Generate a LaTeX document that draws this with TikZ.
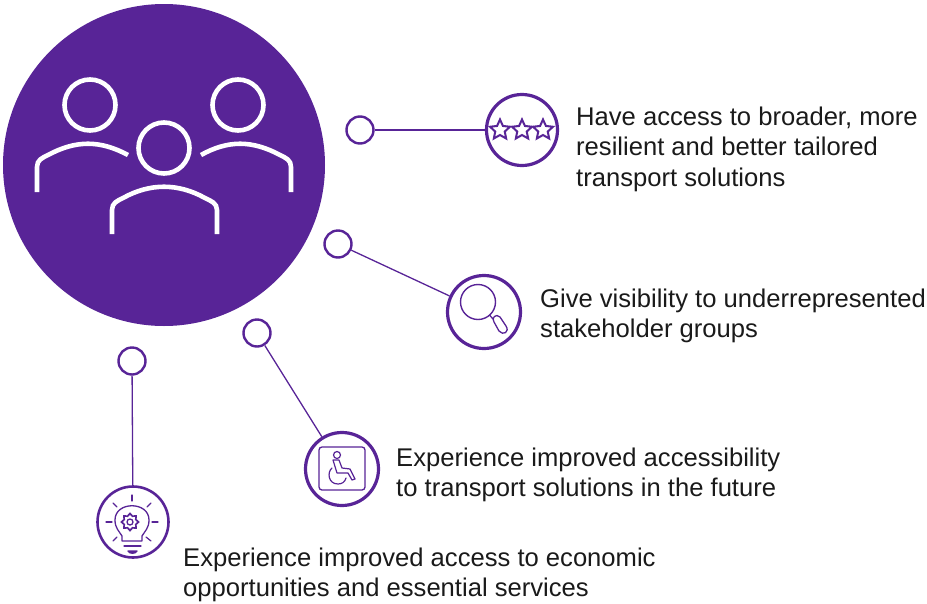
\documentclass[tikz,border=0pt]{standalone}
\usepackage{fontspec}
\setmainfont{Liberation Sans}
\usetikzlibrary{shapes.geometric}
\definecolor{pur}{HTML}{582497}
\definecolor{txt}{HTML}{1A1A1A}
\tikzset{
  dot/.style={circle,draw=pur,line width=2.4pt,fill=white,minimum size=27pt,inner sep=0pt},
  ring/.style={circle,draw=pur,line width=3.2pt,fill=white,minimum size=71pt,inner sep=0pt},
  link/.style={draw=pur,line width=1.3pt},
  ico/.style={draw=pur,line width=1.3pt,line cap=round,line join=round},
  ppl/.style={draw=white,line width=4.6pt},
  lab/.style={anchor=west,align=left,text=txt,font=\fontsize{25.6pt}{30.5pt}\selectfont,inner sep=0pt},
  staricon/.style={star,star points=5,star point ratio=2.1,draw=pur,line width=2pt,minimum size=21pt,inner sep=0pt,fill=white}
}
\begin{document}
\begin{tikzpicture}[x=1pt,y=-1pt]
\useasboundingbox (0,0) rectangle (927,603);
% main disc
\node[circle,fill=pur,minimum size=322pt,inner sep=0pt] (main) at (164,165) {};
% people
\node[circle,draw=white,line width=4.6pt,minimum size=51pt,inner sep=0pt] (h1) at (90,105) {};
\node[circle,draw=white,line width=4.6pt,minimum size=51pt,inner sep=0pt] (h2) at (238,105) {};
\node[circle,draw=white,line width=4.6pt,minimum size=51pt,inner sep=0pt] (h3) at (164,148) {};
\draw[ppl] (37,192) -- (37,167) .. controls (37,160) and (42,158) .. (48,155) .. controls (76,140) and (100,140) .. (128,155);
\draw[ppl] (291,192) -- (291,167) .. controls (291,160) and (286,158) .. (280,155) .. controls (252,140) and (228,140) .. (201,155);
\draw[ppl] (112,234) -- (112,210) .. controls (112,203) and (117,201) .. (123,198) .. controls (150,183) and (178,183) .. (205,198) .. controls (211,201) and (217,203) .. (217,210) -- (217,234);
% end dots and icon rings
\node[dot] (d1) at (360,130) {};
\node[dot] (d2) at (338,244) {};
\node[dot] (d3) at (257,333) {};
\node[dot] (d4) at (132,361) {};
\node[ring] (r1) at (522,130) {};
\node[ring,minimum size=73pt] (r2) at (484,312) {};
\node[ring,minimum size=73pt] (r3) at (342,469) {};
\node[ring,line width=2.6pt] (r4) at (133,522) {};
\draw[link] (d1) -- (r1);
\draw[link] (d2) -- (r2);
\draw[link] (d3) -- (r3);
\draw[link] (d4) -- (r4);
% stars
\node[staricon] (s1) at (500,130) {};
\node[staricon] (s2) at (522,130) {};
\node[staricon] (s3) at (543,130) {};
% magnifier
\node[circle,draw=pur,line width=1.4pt,minimum size=35pt,inner sep=0pt] (lens) at (478,302) {};
\draw[ico] (lens) -- (493,319);
\draw[ico] (494,322) .. controls (491,318) and (496,313) .. (500,317) -- (506,326) .. controls (510,332) and (503,336) .. (499,331) -- cycle;
% wheelchair
\draw[ico,rounded corners=3pt] (319,447) rectangle (365,490);
\node[circle,draw=pur,line width=1.2pt,minimum size=7pt,inner sep=0pt] (wh) at (337,455) {};
\draw[ico,line width=1.2pt] (333,460) -- (339,460) -- (342,468) -- (350,469) -- (355,479) -- (352,480) -- (348,473) -- (337,473) -- cycle;
\draw[ico,line width=1.2pt] (332,468) .. controls (327,472) and (328,484) .. (338,484) .. controls (342,484) and (345,482) .. (346,478);
% bulb
\draw[ico] (122,541) -- (122,536) .. controls (119,531) and (115,528) .. (115,520) .. controls (115,501) and (149,501) .. (149,520) .. controls (149,528) and (145,531) .. (142,536) -- (142,541) -- cycle;
\draw[ico] (124,546) -- (141,546);
\draw[ico,fill=pur] (128,551) -- (137,551) .. controls (136,554) and (129,554) .. (128,551) -- cycle;
\draw[ico,line width=1.2pt] (132,495) -- (132,501);
\draw[ico,line width=1.2pt] (106,522) -- (112,522);
\draw[ico,line width=1.2pt] (152,522) -- (158,522);
\draw[ico,line width=1.2pt] (113,503) -- (117,507);
\draw[ico,line width=1.2pt] (151,503) -- (147,507);
\draw[ico,line width=1.2pt] (113,541) -- (117,537);
\draw[ico,line width=1.2pt] (151,541) -- (146,537);
\node[star,star points=8,star point ratio=1.35,draw=pur,line width=1.7pt,minimum size=17pt,inner sep=0pt] (gear) at (130,522) {};
\node[circle,draw=pur,line width=1.3pt,minimum size=6pt,inner sep=0pt] (hub) at (130,522) {};
% labels
\node[lab] (t1) at (576,149) {Have access to broader, more\\resilient and better tailored\\transport solutions};
\node[lab] (t2) at (540,316) {Give visibility to underrepresented\\stakeholder groups};
\node[lab] (t3) at (396,475) {Experience improved accessibility\\to transport solutions in the future};
\node[lab] (t4) at (183,575) {Experience improved access to economic\\opportunities and essential services};
\end{tikzpicture}
\end{document}
